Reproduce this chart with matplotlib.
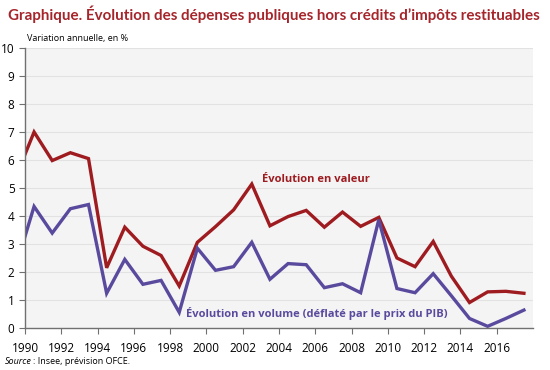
import numpy as np
import matplotlib
matplotlib.use("Agg")
import matplotlib.pyplot as plt

# years of the annual points (plotted at mid-year); 1989 only shows as the clipped start
years = np.arange(1989, 2018)
valeur = [5.4, 7.0, 5.98, 6.26, 6.05, 2.15, 3.6, 2.92, 2.59, 1.5, 3.06,
          3.62, 4.22, 5.14, 3.65, 3.98, 4.2, 3.6, 4.14, 3.63, 3.95,
          2.5, 2.19, 3.09, 1.85, 0.91, 1.29, 1.31, 1.24]
volume = [2.2, 4.34, 3.39, 4.26, 4.41, 1.24, 2.45, 1.56, 1.7, 0.56, 2.85,
          2.06, 2.19, 3.06, 1.74, 2.3, 2.26, 1.44, 1.58, 1.26, 3.87,
          1.41, 1.26, 1.94, 1.15, 0.34, 0.06, 0.34, 0.64]
xticks = list(range(1990, 2017, 2))
yticks = list(range(0, 11))

RED = "#9e1b20"
PURPLE = "#5a4a9e"
TITLE = "#a5252b"

plt.rcParams["font.family"] = ["Open Sans", "DejaVu Sans"]

fig = plt.figure(figsize=(5.5, 3.7), dpi=100)
ax = fig.add_axes([25 / 550, 1 - 328 / 370, 508 / 550, 280 / 370])
ax.set_facecolor("#f4f4f4")

x = years + 0.5
ax.plot(x, valeur, color=RED, lw=2.4, solid_joinstyle="miter")
ax.plot(x, volume, color=PURPLE, lw=2.4, solid_joinstyle="miter")

ax.set_xlim(1990, 2018)
ax.set_ylim(0, 10)
ax.set_xticks(xticks)
ax.set_yticks(yticks)
ax.yaxis.grid(True, color="#e2e2e2", lw=0.8)
ax.set_axisbelow(True)
for side in ("top", "right"):
    ax.spines[side].set_visible(False)
for side in ("left", "bottom"):
    ax.spines[side].set_color("#707070")
    ax.spines[side].set_linewidth(1.0)
ax.tick_params(axis="both", colors="#707070", labelcolor="black",
               labelsize=8.5, length=4, width=0.8)
ax.tick_params(axis="x", pad=6)

ax.text(2003.05, 5.3, "Évolution en valeur", color=RED, fontsize=8,
        fontweight="bold", va="center")
ax.text(1998.9, 0.5, "Évolution en volume (déflaté par le prix du PIB)",
        color=PURPLE, fontsize=8, fontweight="bold", va="center")

fig.text(8 / 550, 1 - 14 / 370, "Graphique. Évolution des dépenses publiques hors crédits d’impôts restituables",
         color=TITLE, fontsize=10.9, fontweight="bold", va="center",
         family=["Lato", "DejaVu Sans"])
fig.text(27 / 550, 1 - 39 / 370, "Variation annuelle, en %", fontsize=6.5, va="center")
fig.text(5 / 550, 1 - 362 / 370, "Source", fontsize=6.5, style="italic", va="center")
fig.text(33 / 550, 1 - 362 / 370, ": Insee, prévision OFCE.", fontsize=6.5, va="center")

fig.savefig("out.png", dpi=100)
